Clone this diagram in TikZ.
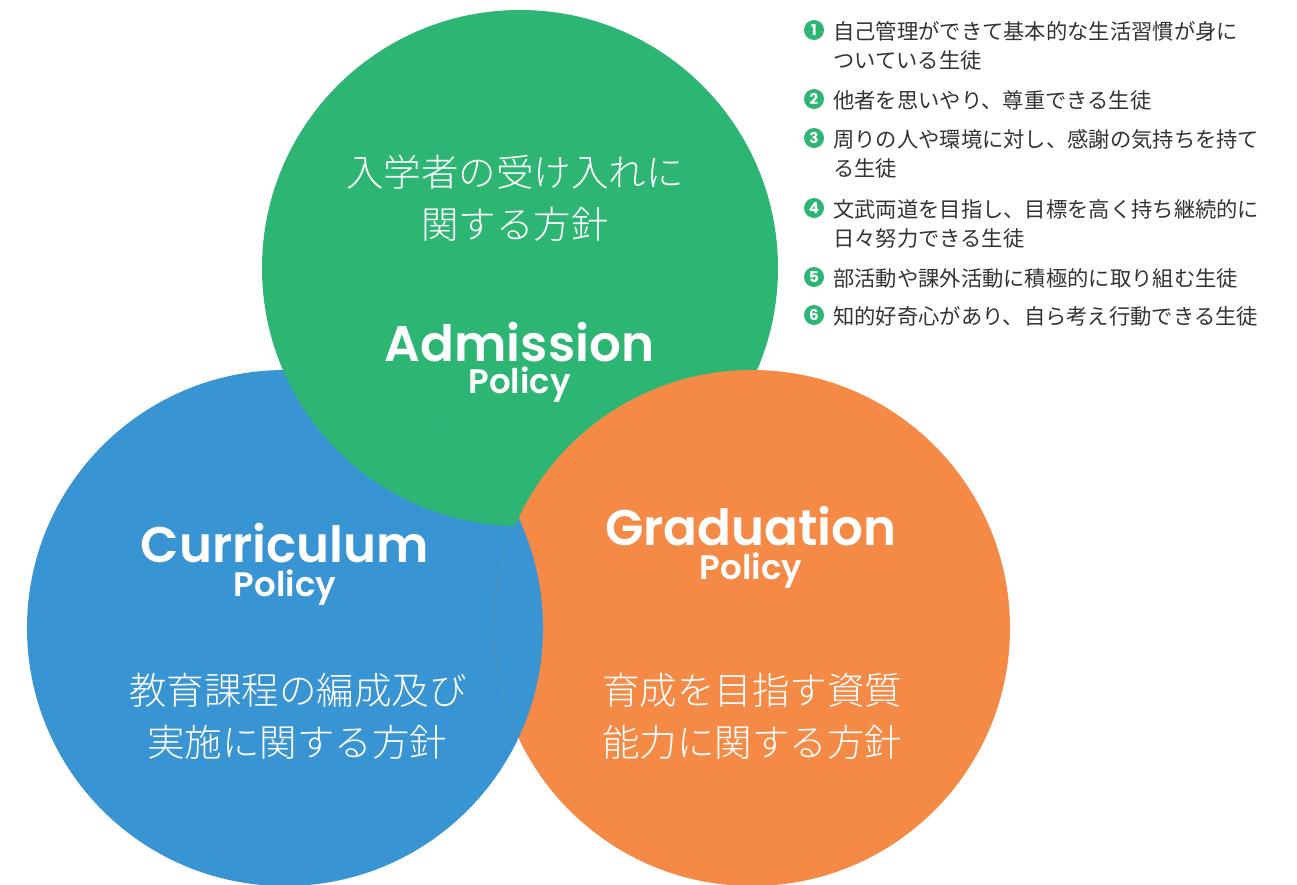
\documentclass[tikz,border=0pt]{standalone}
\usepackage{fontspec}
\newfontfamily\jp{Noto Sans CJK JP}
\newfontfamily\jpl{Noto Sans CJK JP Light}
\newfontfamily\pop{Poppins SemiBold}
\newfontfamily\popb{Poppins}
\definecolor{gr}{HTML}{2DB573}
\definecolor{bl}{HTML}{3894D3}
\definecolor{orc}{HTML}{F48A46}
\definecolor{txt}{HTML}{333333}
\tikzset{
  jpbig/.style={font=\jpl\fontsize{37.5}{37.5}\selectfont, text=white, inner sep=0pt, anchor=center},
  enbig/.style={font=\pop\fontsize{50}{50}\selectfont, text=white, inner sep=0pt, anchor=base, text depth=0pt},
  ensmall/.style={font=\pop\fontsize{34}{34}\selectfont, text=white, inner sep=0pt, anchor=base, text height=17pt},
  item/.style={font=\jp\fontsize{21.3}{21.3}\selectfont, text=txt, inner sep=0pt, anchor=west},
  num/.style={circle, fill=gr, minimum size=20pt, inner sep=0pt, text=white, font=\popb\bfseries\fontsize{15}{15}\selectfont},
  faint/.style={line width=0.5pt}
}
\begin{document}
\begin{tikzpicture}[x=1pt,y=-1pt]
\useasboundingbox (0,0) rectangle (1297,884);
\coordinate (cb) at (285,628);
\coordinate (cg) at (520,268);
\coordinate (co) at (752,628);
% circles with cyclic overlap
\fill[bl] (cb) circle (258pt);
\fill[gr] (cg) circle (258pt);
\fill[orc] (co) circle (258pt);
\begin{scope}
  \clip (co) circle (258pt);
  \fill[bl] (cb) circle (258pt);
\end{scope}
% faint hidden edges
\begin{scope}
  \clip (cg) circle (257.5pt);
  \draw[faint, gr!85!bl] (cb) circle (258pt);
\end{scope}
\begin{scope}
  \clip (cb) circle (257.5pt);
  \draw[faint, bl!85!orc] (co) circle (258pt);
\end{scope}
% green circle texts
\node[jpbig] (g1) at (515,172) {入学者の受け入れに};
\node[jpbig] (g2) at (515,224) {関する方針};
\node[enbig] (gA) at (519.5,361) {Admission};
\node[ensmall] (gP) at (519.5,393) {Policy};
% blue circle texts
\node[enbig] (bC) at (285,562) {Curriculum};
\node[ensmall] (bP) at (285,596) {Policy};
\node[jpbig] (b1) at (298,690) {教育課程の編成及び};
\node[jpbig] (b2) at (297,742) {実施に関する方針};
% orange circle texts
\node[enbig] (oG) at (751,545) {Graduation};
\node[ensmall] (oP) at (751,579) {Policy};
\node[jpbig] (o1) at (752,690) {育成を目指す資質};
\node[jpbig] (o2) at (752,742) {能力に関する方針};
% list
\node[num] (n1) at (814,30) {1};
\node[item] (t1) at (833,31) {自己管理ができて基本的な生活習慣が身に};
\node[item] (t1b) at (833,60) {ついている生徒};
\node[num] (n2) at (814,99) {2};
\node[item] (t2) at (833,100) {他者を思いやり、尊重できる生徒};
\node[num] (n3) at (814,138) {3};
\node[item] (t3) at (833,139) {周りの人や環境に対し、感謝の気持ちを持て};
\node[item] (t3b) at (833,168) {る生徒};
\node[num] (n4) at (814,208) {4};
\node[item] (t4) at (833,209) {文武両道を目指し、目標を高く持ち継続的に};
\node[item] (t4b) at (833,238) {日々努力できる生徒};
\node[num] (n5) at (814,277) {5};
\node[item] (t5) at (833,278) {部活動や課外活動に積極的に取り組む生徒};
\node[num] (n6) at (814,315) {6};
\node[item] (t6) at (833,316) {知的好奇心があり、自ら考え行動できる生徒};
\end{tikzpicture}
\end{document}
